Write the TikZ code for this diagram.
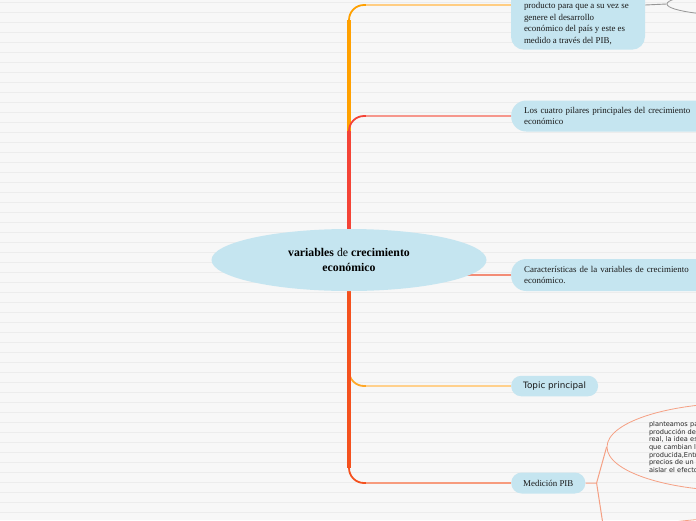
\documentclass[tikz,border=0pt]{standalone}
\usepackage{fontspec}
\setmainfont{Liberation Serif}
\newfontfamily\uisans{DejaVu Sans}
\usetikzlibrary{shapes.geometric,calc}
\pgfdeclarelayer{grid}
\pgfdeclarelayer{bg}
\pgfsetlayers{grid,bg,main}
\definecolor{pagebg}{RGB}{247,247,247}
\definecolor{gridc}{RGB}{236,236,236}
\definecolor{nodefill}{RGB}{197,229,240}
\definecolor{orA}{RGB}{255,160,0}
\definecolor{orAl}{RGB}{255,205,130}
\definecolor{rdB}{RGB}{244,67,54}
\definecolor{rdBl}{RGB}{246,150,140}
\definecolor{rdC}{RGB}{243,140,118}
\definecolor{orD}{RGB}{255,167,38}
\definecolor{orDl}{RGB}{255,208,140}
\definecolor{rdE}{RGB}{244,81,30}
\definecolor{rdEl}{RGB}{247,155,125}
\definecolor{subc}{RGB}{245,160,132}
\definecolor{grayc}{RGB}{150,150,150}
\newcommand\mmbranch[4]{%
  \draw[line width=3.4, #1] (c.center) -- ([yshift=#4]c.center |- #3.west);
  \draw[line width=1.8, #1, rounded corners=15] ([yshift=#4]c.center |- #3.west) -- (c.center |- #3.west) -- ([xshift=18]c.center |- #3.west);
  \draw[line width=1.4, #2] ([xshift=17]c.center |- #3.west) -- (#3.west);
}
\begin{document}
\begin{tikzpicture}[x=1pt,y=-1pt,
  ctr/.style={ellipse, fill=nodefill, minimum width=275, minimum height=62, inner sep=0, align=center, font=\fontsize{11.8}{15}\selectfont\bfseries},
  box/.style={fill=nodefill, draw=none, rounded corners=13, font=\fontsize{8.9}{11.5}\selectfont, text=black!90},
  pill/.style={box, anchor=west, align=left, inner xsep=13, inner ysep=0},
  subell/.style={ellipse, draw=subc, line width=0.8, inner sep=0},
  grayell/.style={ellipse, draw=grayc, line width=0.8, inner sep=0},
  subline/.style={draw=subc, line width=1},
  grayline/.style={draw=grayc, line width=0.9}]
\useasboundingbox (0,0) rectangle (696,520);
\clip (0,0) rectangle (696,520);
\begin{pgfonlayer}{grid}
\fill[pagebg] (0,0) rectangle (696,520);
\foreach \k in {0,...,51} \draw[gridc, line width=0.9] (0,{2.5+10*\k}) -- (696,{2.5+10*\k});
\end{pgfonlayer}

\node[ctr] (c) at (349,260) {variables \textmd{de} crecimiento\\económico};

\node[box, minimum width=134, minimum height=88, inner xsep=11, inner ysep=5] (n1) at (578,5)
  {\parbox[c][78pt][b]{112pt}{\hspace*{2pt}\parbox[b]{110pt}{\raggedright producto para que a su vez se\\genere el desarrollo\\económico del país y este es\\medido a través del PIB,}}};

\node[pill, rounded corners=15, minimum height=31, text width=200] (n2) at (511,116)
  {Los cuatro pilares principales del crecimiento\\económico};

\node[pill, rounded corners=15, minimum height=32, text width=200] (n3) at (511,275)
  {Características de la variables de crecimiento\\económico.};

\node[box, anchor=west, rounded corners=10, minimum height=20.5, inner xsep=12, inner ysep=0,
  font=\uisans\fontsize{8.8}{9}\selectfont] (n4) at (511,386) {Topic principal};

\node[box, anchor=west, rounded corners=10.5, minimum height=21, inner xsep=12, inner ysep=0] (n5) at (511,483) {Medición PIB};

\node[subell, minimum width=266, minimum height=88, text width=182, align=left,
  font=\uisans\fontsize{6.6}{7.7}\selectfont, text=black!85] (e1) at (740,447)
  {planteamos pa\\producción de\\real, la idea es\\que cambian l\\producida,Entr\\precios de un\\aislar el efecto};

\node[subell, minimum width=266, minimum height=60] (e2) at (740,548) {};

\node[grayell, minimum width=200, minimum height=26] (e0) at (767,4) {};

\begin{pgfonlayer}{bg}
\mmbranch{orA}{orAl}{n1}{-15}
\mmbranch{rdB}{rdBl}{n2}{-15}
\draw[line width=1.1, rdC] (c.center |- n3.west) -- (n3.west);
\mmbranch{orD}{orDl}{n4}{15}
\mmbranch{rdE}{rdEl}{n5}{15}
\coordinate (j) at ($(n5.east)+(11,0)$);
\draw[subline] (n5.east) -- (j) -- (e1.west);
\draw[subline] (j) -- (e2.west);
\draw[grayline] (n1.east) -- (e0.west);
\end{pgfonlayer}
\end{tikzpicture}
\end{document}
